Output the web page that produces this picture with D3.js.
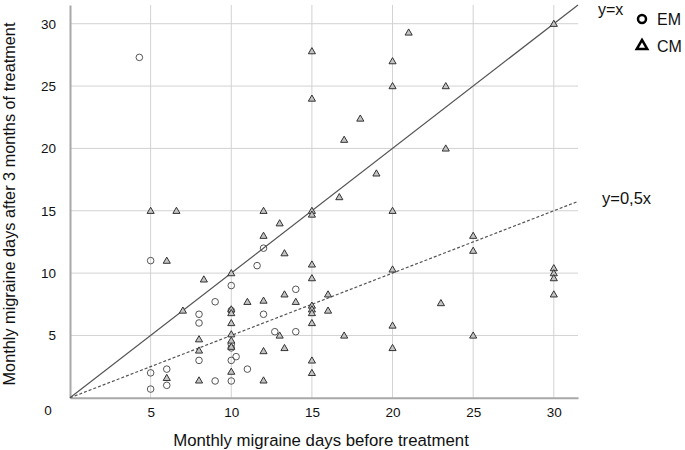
<!DOCTYPE html>
<html>
<head>
<meta charset="utf-8">
<script src="https://cdn.jsdelivr.net/npm/d3@7"></script>
<style>
  body { margin: 0; background: #fff; }
  text { font-family: "Liberation Sans", Arial, sans-serif; fill: #111; }
</style>
</head>
<body>
<div id="chart"></div>
<script>
// Episodic migraine (EM) points: [before, after]
const emPoints = [
  [4.3, 27.3], [5, 11], [10, 9], [11.6, 10.6], [12, 12], [14, 8.7], [9, 7.7],
  [8, 6.7], [8, 6], [10, 7], [10, 4.3], [10, 4.0], [8, 3], [10, 3], [10.3, 3.3],
  [11, 2.3], [5, 2], [6, 2.3], [6, 1], [5, 0.7], [9, 1.35], [10, 1.35],
  [12, 6.7], [12.7, 5.3], [14, 5.3]
];

// Chronic migraine (CM) points: [before, after]
const cmPoints = [
  [15, 27.8], [21, 29.3], [20, 27], [20, 25], [23.3, 25], [15, 24], [18, 22.4],
  [17, 20.7], [30, 30], [23.3, 20], [19, 18], [16.7, 16.1], [5, 15], [6.6, 15],
  [6, 11], [8.3, 9.5], [10, 10], [12, 15], [15, 15], [15, 14.7], [20, 15],
  [13, 14], [12, 13], [13.3, 11.6], [15, 10.7], [20, 10.3], [15, 9.6],
  [13.3, 8.3], [16, 8.3], [12, 7.8], [14, 7.7], [25, 13], [25, 11.8],
  [30, 10.4], [30, 10.0], [30, 9.6], [30, 8.3], [11, 7.7], [7, 7], [10, 7.1],
  [10, 6.8], [10, 6], [8, 4.7], [10, 5.1], [10, 4.6], [10, 4.1], [8, 3.8],
  [10, 2.1], [6, 1.6], [8, 1.4], [23, 7.6], [15, 7.4], [15, 7.1], [15, 6.8],
  [16, 7], [15, 6], [13, 5], [17, 5], [20, 5.8], [20, 4], [12, 3.75],
  [13.3, 4], [15, 3], [15, 2], [12, 1.4], [25, 5]
];

const tickValues = [5, 10, 15, 20, 25, 30];
const refLines = [
  { label: "y=x", slope: 1, dash: null },
  { label: "y=0,5x", slope: 0.5, dash: "3,2" }
];
const legendItems = ["EM", "CM"];

const width = 685, height = 450;
const plotLeft = 70, plotRight = 578, plotTop = 5, plotBottom = 397.8;
const maxVal = 31.5;

const svg = d3.select("#chart")
  .append("svg")
  .attr("width", width)
  .attr("height", height);

const x = d3.scaleLinear().domain([0, maxVal]).range([plotLeft, plotRight]);
const y = d3.scaleLinear().domain([0, maxVal]).range([plotBottom, plotTop]);

// Grid lines
svg.append("g")
  .selectAll("line")
  .data(tickValues)
  .enter()
  .append("line")
  .attr("x1", (d) => x(d)).attr("x2", (d) => x(d))
  .attr("y1", y(maxVal)).attr("y2", y(0))
  .attr("stroke", "#d2d2d2").attr("stroke-width", 1);

svg.append("g")
  .selectAll("line")
  .data(tickValues)
  .enter()
  .append("line")
  .attr("x1", x(0)).attr("x2", x(maxVal))
  .attr("y1", (d) => y(d)).attr("y2", (d) => y(d))
  .attr("stroke", "#d2d2d2").attr("stroke-width", 1);

// Axes
const xAxis = svg.append("g")
  .attr("transform", `translate(0,${y(0)})`)
  .call(d3.axisBottom(x).tickValues(tickValues).tickSize(0).tickPadding(10));
const yAxis = svg.append("g")
  .attr("transform", `translate(${x(0)},0)`)
  .call(d3.axisLeft(y).tickValues(tickValues).tickSize(0).tickPadding(14));

[xAxis, yAxis].forEach((ax) => {
  ax.select(".domain").attr("stroke", "#a8a8a8").attr("stroke-width", 2);
  ax.selectAll("text")
    .style("font-family", '"Liberation Sans", Arial, sans-serif')
    .style("font-size", "13.5px")
    .attr("fill", "#111");
});

// the shared zero label sits in the corner
svg.append("text")
  .attr("x", x(0) - 22)
  .attr("y", y(0) + 17)
  .attr("text-anchor", "middle")
  .style("font-size", "13.5px")
  .text("0");

// Reference lines
refLines.forEach((r) => {
  svg.append("line")
    .attr("x1", x(0)).attr("y1", y(0))
    .attr("x2", x(maxVal)).attr("y2", y(maxVal * r.slope))
    .attr("stroke", "#555")
    .attr("stroke-width", 1.2)
    .attr("stroke-dasharray", r.dash);
});

svg.append("text").attr("x", 598).attr("y", 15)
  .style("font-size", "16px").text(refLines[0].label);
svg.append("text").attr("x", 602).attr("y", 204)
  .style("font-size", "16.5px").text(refLines[1].label);

// Points
const tri = d3.symbol().type(d3.symbolTriangle).size(22);

svg.append("g")
  .selectAll("circle")
  .data(emPoints)
  .enter()
  .append("circle")
  .attr("cx", (d) => x(d[0]))
  .attr("cy", (d) => y(d[1]))
  .attr("r", 3.3)
  .attr("fill", "none")
  .attr("stroke", "#555")
  .attr("stroke-width", 1);

svg.append("g")
  .selectAll("path")
  .data(cmPoints)
  .enter()
  .append("path")
  .attr("d", tri)
  .attr("transform", (d) => `translate(${x(d[0])},${y(d[1]) + 0.6})`)
  .attr("fill", "#c4c4c4")
  .attr("stroke", "#333")
  .attr("stroke-width", 1);

// Legend
const legend = svg.append("g");
legend.append("circle")
  .attr("cx", 642).attr("cy", 19).attr("r", 4)
  .attr("fill", "#fff").attr("stroke", "#000").attr("stroke-width", 2.5);
legend.append("path")
  .attr("d", d3.symbol().type(d3.symbolTriangle).size(48))
  .attr("transform", "translate(642,46)")
  .attr("fill", "#fff").attr("stroke", "#000").attr("stroke-width", 2.5);
legend.selectAll("text.leg")
  .data(legendItems)
  .enter()
  .append("text")
  .attr("class", "leg")
  .attr("x", 657)
  .attr("y", (d, i) => 25 + i * 27)
  .style("font-size", "16px")
  .text((d) => d);

// Axis titles
svg.append("text")
  .attr("x", 321)
  .attr("y", 446)
  .attr("text-anchor", "middle")
  .style("font-size", "16.8px")
  .text("Monthly migraine days before treatment");

svg.append("text")
  .attr("transform", "translate(15,204) rotate(-90)")
  .attr("text-anchor", "middle")
  .style("font-size", "16.3px")
  .text("Monthly migraine days after 3 months of treatment");
</script>
</body>
</html>
